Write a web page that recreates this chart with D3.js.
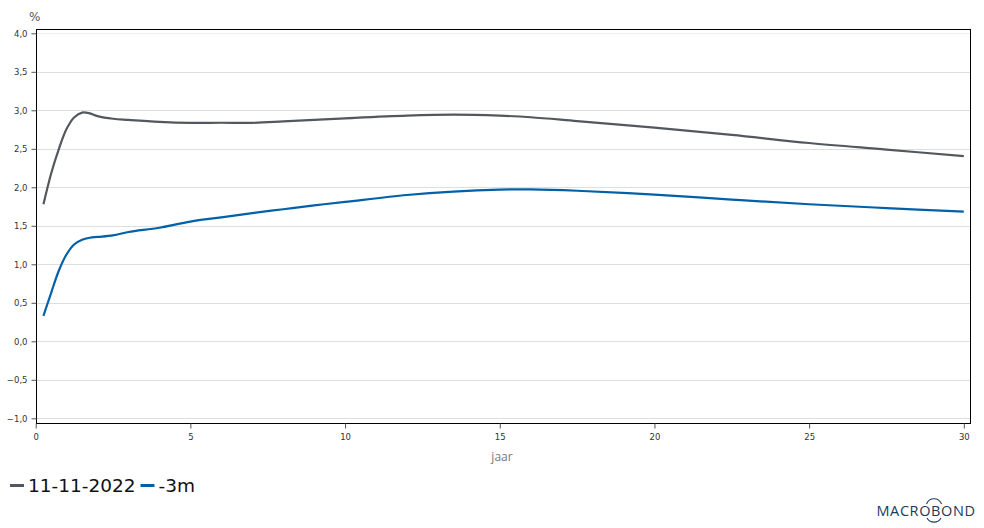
<!DOCTYPE html>
<html>
<head>
<meta charset="utf-8">
<script src="https://cdn.jsdelivr.net/npm/d3@7"></script>
<style>
body{margin:0;background:#fff;}
svg{display:block;}
</style>
</head>
<body>
<svg id="chart" width="984" height="528"></svg>
<script>
const maturities = [0.25,0.5,0.75,1,1.25,1.5,1.75,2,2.5,3,4,5,6,7,8,9,10,12,13.5,15,16,17.5,20,22.5,25,27.5,30];
const seriesCurrent = [1.78,2.18,2.50,2.76,2.91,2.97,2.96,2.925,2.89,2.875,2.85,2.837,2.838,2.837,2.855,2.875,2.895,2.93,2.943,2.93,2.91,2.86,2.775,2.68,2.575,2.49,2.405];
const series3m = [0.33,0.63,0.92,1.13,1.26,1.32,1.345,1.355,1.375,1.42,1.475,1.555,1.61,1.665,1.715,1.765,1.81,1.90,1.945,1.97,1.972,1.955,1.905,1.84,1.78,1.73,1.685];
const seriesNames = ["11-11-2022","-3m"];
const seriesColors = ["#53585e","#0061a8"];
const xTicks = [0,5,10,15,20,25,30];
const yTicks = [-1,-0.5,0,0.5,1,1.5,2,2.5,3,3.5,4];

const svg = d3.select("#chart");
const L = 35.7, R = 970, T = 28.7, B = 423;
const x = d3.scaleLinear().domain([0, 30.2]).range([L, R]);
const y = d3.scaleLinear().domain([-1, 4]).range([418.3, 33.3]);
const fmt = v => d3.format(".1f")(v).replace(".", ",");

// gridlines
svg.append("g").selectAll("line").data(yTicks).join("line")
  .attr("x1", L).attr("x2", R)
  .attr("y1", d => Math.round(y(d)) + 0.5).attr("y2", d => Math.round(y(d)) + 0.5)
  .attr("stroke", d => d === 4 ? "#eeeeee" : "#dedede").attr("stroke-width", 1);

// frame
svg.append("rect").attr("x", Math.round(L)+0.5).attr("y", Math.round(T)+0.5)
  .attr("width", Math.round(R) - Math.round(L)).attr("height", Math.round(B) - Math.round(T))
  .attr("fill", "none").attr("stroke", "#000").attr("stroke-width", 1);

// y axis
const yAxis = d3.axisLeft(y).tickValues(yTicks).tickSize(5).tickPadding(4).tickFormat(fmt);
const gy = svg.append("g").attr("transform", `translate(${Math.round(L)+0.5},0)`).call(yAxis);
gy.select(".domain").remove();
gy.selectAll("line").attr("stroke", "#555");
gy.selectAll("text").attr("font-family", "DejaVu Sans, Verdana, sans-serif").attr("font-size", 8.5).attr("fill", "#333");

// x axis
const xAxis = d3.axisBottom(x).tickValues(xTicks).tickSize(5).tickPadding(5).tickFormat(d3.format("d"));
const gx = svg.append("g").attr("transform", `translate(0,${Math.round(B)+0.5})`).call(xAxis);
gx.select(".domain").remove();
gx.selectAll("line").attr("stroke", "#555");
gx.selectAll("text").attr("font-family", "DejaVu Sans, Verdana, sans-serif").attr("font-size", 8.5).attr("fill", "#333");

// unit label
svg.append("text").attr("x", 29).attr("y", 21).text("%")
  .attr("font-family", "DejaVu Sans, Verdana, sans-serif").attr("font-size", 12).attr("fill", "#555");

// x label
svg.append("text").attr("x", 502).attr("y", 461).attr("text-anchor", "middle").text("jaar")
  .attr("font-family", "Open Sans, sans-serif").attr("font-size", 12).attr("fill", "#777");

// lines
const line = d3.line().x((d,i) => x(maturities[i])).y(d => y(d)).curve(d3.curveCatmullRom.alpha(0.5));
[seriesCurrent, series3m].forEach((s, k) => {
  svg.append("path").datum(s).attr("d", line).attr("fill", "none")
    .attr("stroke", seriesColors[k]).attr("stroke-width", 2.2).attr("stroke-linejoin", "round");
});

// legend
const legend = svg.append("g");
let lx = 10;
seriesNames.forEach((n, k) => {
  legend.append("line").attr("x1", lx).attr("x2", lx + 14).attr("y1", 485.5).attr("y2", 485.5)
    .attr("stroke", seriesColors[k]).attr("stroke-width", 3);
  const t = legend.append("text").attr("x", lx + 18).attr("y", 492).text(n)
    .attr("font-family", "DejaVu Sans, Verdana, sans-serif").attr("font-size", 18.5).attr("fill", "#111");
  lx += 18 + t.node().getComputedTextLength() + 5;
});

// logo
const logo = svg.append("g");
logo.append("text").attr("x", 926).attr("y", 516).attr("text-anchor", "middle").text("MACROBOND")
  .attr("font-family", "Open Sans, sans-serif").attr("font-size", 14.5).attr("letter-spacing", 0.6)
  .attr("fill", "#23395b");
logo.append("path").attr("d", "M926.5,504 A8,8 0 0 1 941.5,504").attr("fill", "none")
  .attr("stroke", "#23395b").attr("stroke-width", 1.1);
logo.append("path").attr("d", "M927,518 A8,8 0 0 0 941,518").attr("fill", "none")
  .attr("stroke", "#23395b").attr("stroke-width", 1.1);
</script>
</body>
</html>
